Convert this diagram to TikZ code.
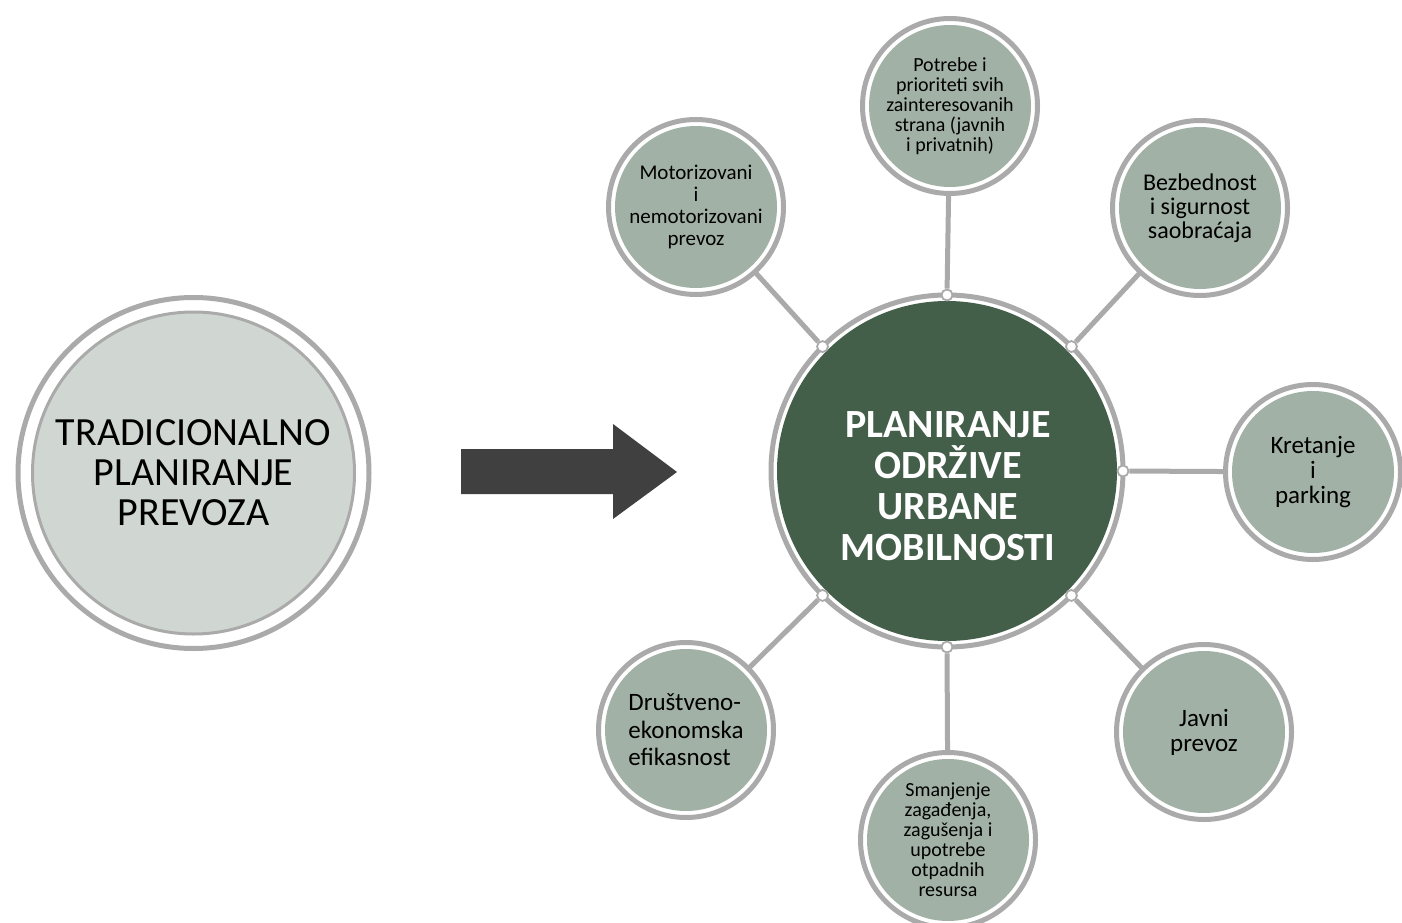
\documentclass[tikz,border=0pt]{standalone}
\usepackage{fontspec}
\setmainfont{Carlito}
\definecolor{ringgray}{HTML}{AAAAAA}
\definecolor{satfill}{HTML}{A2B1A5}
\definecolor{centergreen}{HTML}{445F49}
\definecolor{leftfill}{HTML}{D0D7D3}
\definecolor{arrowgray}{HTML}{404040}
\tikzset{
  ring/.style={circle, draw=ringgray, line width=5pt, inner sep=0pt, outer sep=0pt},
  sat/.style={ring, minimum size=175pt, fill=white, align=center,
    path picture={\fill[satfill] (path picture bounding box.center) circle (81pt);}},
  dotnode/.style={circle, draw=ringgray, line width=1.8pt, fill=white, minimum size=11pt, inner sep=0pt},
  spoke/.style={draw=ringgray, line width=5pt},
  sattext/.style={font=\fontsize{#1}{#1}\selectfont},
}
\begin{document}
\begin{tikzpicture}[x=1pt,y=-1pt]
\useasboundingbox (0,0) rectangle (1402,923);
% left circle
\node[ring, minimum size=351pt, fill=white] (L) at (193.5,473) {};
\node[circle, draw=ringgray, line width=3pt, fill=leftfill, minimum size=322pt, inner sep=0pt, align=center,
      font=\fontsize{40}{40}\selectfont] (Lt) at (193.5,473) {TRADICIONALNO\\PLANIRANJE\\PREVOZA};
% arrow
\fill[arrowgray] (461,449) -- (613,449) -- (613,424) -- (677,472) -- (613,519) -- (613,494) -- (461,494) -- cycle;
% central circle
\node[ring, minimum size=352pt] (c) at (947,471) {};
\node[circle, fill=centergreen, minimum size=340pt, inner sep=0pt] (cf) at (947,471) {};
\node[align=center, text=white, font=\bfseries\fontsize{40}{41}\selectfont] (ct) at (948,486)
  {PLANIRANJE\\ODRŽIVE\\URBANE\\MOBILNOSTI};
% satellites
\node[sat, sattext=20] (sN) at (950,106) {Potrebe i\\prioriteti svih\\zainteresovanih\\strana (javnih\\i privatnih)};
\node[sat, sattext=24] (sNE) at (1200,208) {Bezbednost\\i sigurnost\\saobraćaja};
\node[sat, sattext=25] (sE) at (1313,472) {Kretanje\\i\\parking};
\node[sat, sattext=25] (sSE) at (1204,732) {Javni\\prevoz};
\node[sat, sattext=20] (sS) at (948,840) {Smanjenje\\zagađenja,\\zagušenja i\\upotrebe\\otpadnih\\resursa};
\node[sat, align=left, font=\fontsize{25}{27.5}\selectfont] (sSW) at (686,730) {Društveno-\\ekonomska\\efikasnost};
\node[sat, font=\fontsize{21}{21.7}\selectfont] (sNW) at (696,207) {Motorizovani\\i\\nemotorizovani\\prevoz};
% dots
\node[dotnode] (dN) at (c.90) {};
\node[dotnode] (dNE) at (c.45) {};
\node[dotnode] (dE) at (c.0) {};
\node[dotnode] (dSE) at (c.-45) {};
\node[dotnode] (dS) at (c.-90) {};
\node[dotnode] (dSW) at (c.-135) {};
\node[dotnode] (dNW) at (c.135) {};
% spokes
\draw[spoke] (dN) -- (sN);
\draw[spoke] (dNE) -- (sNE);
\draw[spoke] (dE) -- (sE);
\draw[spoke] (dSE) -- (sSE);
\draw[spoke] (dS) -- (sS);
\draw[spoke] (dSW) -- (sSW);
\draw[spoke] (dNW) -- (sNW);
\end{tikzpicture}
\end{document}
